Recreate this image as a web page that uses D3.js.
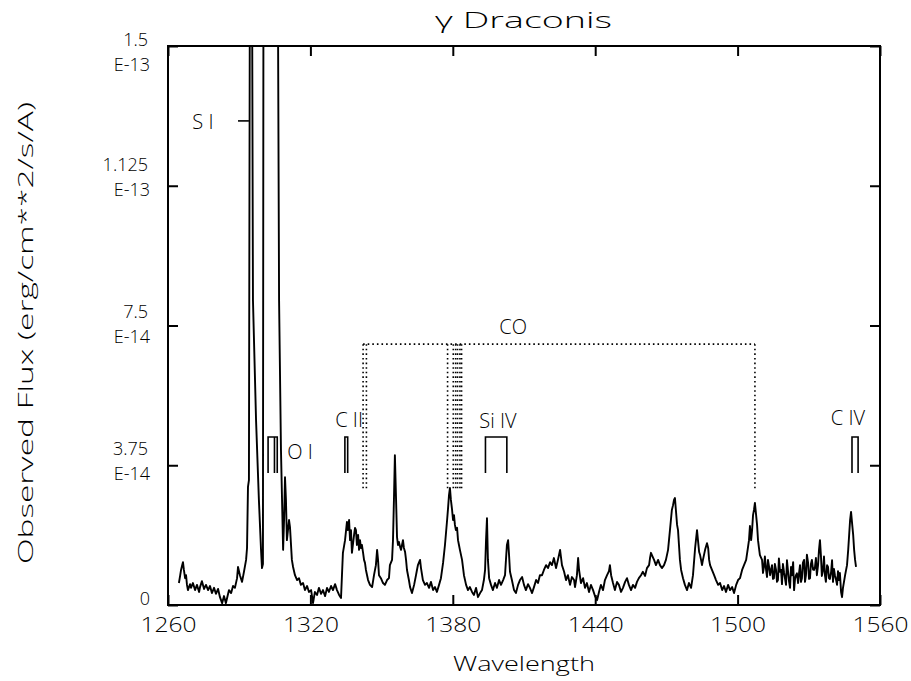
<!DOCTYPE html>
<html>
<head>
<meta charset="utf-8">
<script src="https://cdn.jsdelivr.net/npm/d3@7"></script>
<style>
  body { margin: 0; background: #fff; }
  svg { display: block; }
  text { font-family: "Open Sans", "DejaVu Sans", sans-serif; font-weight: 300; fill: #000; }
</style>
</head>
<body>
<svg id="chart" width="911" height="681"></svg>
<script>
// IUE short-wavelength spectrum of gamma Draconis: [wavelength (A), flux (1e-14 erg/cm^2/s/A)]
const spectrum = [
  [1264.6,0.59],[1265.1,0.78],[1265.5,0.94],[1265.9,1.05],[1266.3,1.15],[1266.7,0.94],[1267.2,0.72],[1267.6,0.80],
  [1268.0,0.54],[1268.4,0.40],[1269.3,0.56],[1269.7,0.46],[1270.5,0.59],[1271.4,0.40],[1272.2,0.54],[1273.1,0.35],
  [1273.5,0.48],[1274.3,0.64],[1275.2,0.43],[1276.0,0.54],[1276.9,0.40],[1277.7,0.51],[1278.5,0.32],[1279.4,0.46],
  [1280.2,0.30],[1281.1,0.43],[1281.9,0.21],[1282.8,0.05],[1283.6,0.24],[1284.4,0.05],[1284.9,0.19],[1285.7,0.40],
  [1286.6,0.32],[1287.4,0.51],[1288.2,0.46],[1289.1,0.72],[1289.5,1.02],[1290.3,0.80],[1291.2,0.62],[1292.0,0.89],
  [1292.9,1.21],[1293.3,1.53],[1293.7,3.17],[1294.1,3.35],[1294.7,24.0],[1295.0,26.0],[1295.8,8.18],[1297.1,4.96],
  [1298.3,2.82],[1299.2,1.48],[1299.6,0.99],[1300.0,1.10],[1300.4,30.0],[1303.0,40.0],[1305.5,30.0],[1306.8,8.18],
  [1307.6,4.16],[1308.5,1.48],[1308.9,2.28],[1309.3,3.43],[1309.7,2.82],[1310.1,1.74],[1311.0,2.28],[1311.4,2.09],
  [1312.2,1.21],[1312.7,1.02],[1313.5,0.80],[1314.4,0.67],[1315.2,0.72],[1316.0,0.54],[1316.9,0.59],[1317.7,0.40],
  [1318.6,0.51],[1319.4,0.35],[1320.3,0.40],[1321.1,0.05],[1321.9,0.35],[1322.8,0.27],[1323.6,0.46],[1324.5,0.30],
  [1325.3,0.40],[1326.2,0.24],[1327.0,0.46],[1327.8,0.35],[1328.7,0.51],[1329.5,0.40],[1330.4,0.56],[1331.2,0.40],
  [1332.1,0.27],[1332.9,0.19],[1333.3,0.80],[1333.7,1.40],[1334.6,1.74],[1335.4,2.23],[1335.8,2.01],[1336.3,2.28],
  [1336.7,1.74],[1337.1,2.01],[1337.5,1.40],[1337.9,1.61],[1338.4,1.88],[1338.8,2.07],[1339.2,2.01],[1339.6,1.61],
  [1340.1,1.88],[1340.5,1.48],[1340.9,1.74],[1341.3,1.53],[1341.7,1.61],[1342.2,1.40],[1342.6,1.21],[1343.0,1.13],
  [1343.4,0.94],[1344.3,0.67],[1345.1,0.54],[1346.0,0.48],[1346.8,0.80],[1347.6,1.07],[1348.1,1.48],[1348.5,1.21],
  [1348.9,0.80],[1349.7,0.72],[1350.6,0.59],[1351.4,0.54],[1352.3,0.67],[1353.1,0.72],[1353.5,1.07],[1354.4,1.21],
  [1354.8,1.74],[1355.2,2.82],[1355.6,4.02],[1356.1,2.82],[1356.5,1.82],[1356.9,1.61],[1357.3,1.69],[1357.8,1.56],
  [1358.2,1.48],[1358.6,1.61],[1359.0,1.74],[1359.4,1.53],[1359.9,1.42],[1360.3,1.21],[1360.7,0.94],[1361.5,0.67],
  [1362.0,0.48],[1362.8,0.32],[1363.7,0.54],[1364.5,0.80],[1364.9,0.94],[1365.3,1.07],[1366.2,1.21],[1366.6,0.99],
  [1367.4,0.67],[1368.3,0.54],[1369.1,0.59],[1370.0,0.46],[1370.8,0.62],[1371.7,0.40],[1372.5,0.48],[1373.3,0.35],
  [1374.2,0.54],[1375.0,0.72],[1375.9,1.13],[1376.7,1.61],[1377.6,2.28],[1378.0,2.60],[1378.4,2.95],[1378.8,3.14],
  [1379.2,2.82],[1379.7,2.55],[1380.1,2.28],[1380.5,2.41],[1380.9,2.15],[1381.3,2.01],[1381.8,2.07],[1382.2,1.74],
  [1382.6,1.61],[1383.0,1.48],[1383.9,1.21],[1384.7,0.80],[1385.6,0.54],[1386.4,0.40],[1387.2,0.48],[1388.1,0.35],
  [1388.9,0.27],[1389.8,0.46],[1390.6,0.21],[1391.5,0.32],[1392.3,0.40],[1393.1,0.67],[1393.6,0.94],[1394.0,1.74],
  [1394.4,2.33],[1394.8,1.21],[1395.3,0.72],[1396.1,0.54],[1396.9,0.40],[1397.8,0.59],[1398.6,0.46],[1399.5,0.67],
  [1400.3,0.54],[1401.2,0.67],[1402.0,0.80],[1402.4,1.21],[1402.8,1.61],[1403.3,1.74],[1403.7,1.34],[1404.1,0.89],
  [1404.9,0.67],[1405.8,0.40],[1406.6,0.32],[1407.5,0.54],[1408.3,0.67],[1409.2,0.75],[1410.0,0.54],[1410.8,0.40],
  [1411.7,0.56],[1412.5,0.46],[1413.4,0.32],[1414.2,0.48],[1415.1,0.67],[1415.9,0.59],[1416.7,0.80],[1417.6,0.80],
  [1418.4,0.94],[1419.3,1.07],[1420.1,0.99],[1421.0,1.15],[1421.8,1.07],[1422.6,1.26],[1423.5,0.99],[1424.3,1.21],
  [1425.2,1.48],[1426.0,1.07],[1426.9,0.89],[1427.7,0.67],[1428.5,0.80],[1429.4,0.54],[1430.2,0.75],[1431.1,0.67],
  [1431.5,0.48],[1432.3,0.80],[1432.8,1.26],[1433.2,0.94],[1434.0,0.59],[1434.9,0.72],[1435.7,0.46],[1436.5,0.59],
  [1437.4,0.35],[1438.2,0.54],[1439.1,0.40],[1439.9,0.24],[1440.8,0.13],[1441.6,0.35],[1442.4,0.54],[1443.3,0.40],
  [1444.1,0.67],[1445.0,0.80],[1445.8,0.91],[1446.2,1.07],[1446.7,0.80],[1447.5,0.59],[1448.3,0.40],[1449.2,0.62],
  [1450.0,0.54],[1450.9,0.35],[1451.7,0.46],[1452.6,0.62],[1453.4,0.72],[1454.2,0.54],[1455.1,0.40],[1455.9,0.54],
  [1456.8,0.46],[1457.6,0.62],[1458.4,0.72],[1459.3,0.80],[1460.1,0.89],[1461.0,0.78],[1461.8,0.99],[1462.7,1.07],
  [1463.1,1.26],[1463.5,1.40],[1463.9,1.34],[1464.8,1.21],[1465.6,1.07],[1466.5,1.21],[1467.3,1.07],[1468.1,0.99],
  [1469.0,1.07],[1469.8,1.21],[1470.7,1.48],[1471.5,2.01],[1471.9,2.28],[1472.3,2.55],[1472.8,2.68],[1473.2,2.82],
  [1473.6,2.87],[1474.0,2.55],[1474.5,2.15],[1474.9,2.01],[1475.3,1.61],[1475.7,1.21],[1476.2,0.94],[1477.0,0.72],
  [1477.8,0.54],[1478.7,0.40],[1479.5,0.59],[1480.4,0.46],[1481.2,0.80],[1482.1,1.53],[1482.9,2.01],[1483.3,1.74],
  [1483.8,1.42],[1484.2,1.34],[1484.6,1.21],[1485.0,1.07],[1485.4,1.21],[1486.3,1.48],[1487.1,1.66],[1487.6,1.53],
  [1488.0,1.21],[1488.4,1.07],[1489.2,0.94],[1490.1,0.80],[1490.9,0.67],[1491.8,0.54],[1492.6,0.59],[1493.5,0.40],
  [1494.3,0.51],[1495.1,0.35],[1496.0,0.54],[1496.8,0.40],[1497.7,0.48],[1498.5,0.32],[1499.4,0.54],[1500.2,0.67],
  [1501.0,0.72],[1501.9,0.94],[1502.7,1.07],[1503.6,1.21],[1504.4,1.56],[1504.8,1.74],[1505.2,2.12],[1505.7,1.74],
  [1506.1,2.01],[1506.5,2.41],[1506.9,2.55],[1507.3,2.74],[1507.8,2.41],[1508.2,2.15],[1508.6,1.74],[1509.0,1.53],
  [1509.4,1.34],[1510.3,1.21],[1510.7,0.86],[1511.1,1.02],[1511.5,1.30],[1512.0,0.94],[1512.4,0.75],[1512.8,1.21],
  [1513.2,1.05],[1513.7,0.80],[1514.1,0.95],[1514.5,1.07],[1514.9,0.70],[1515.3,0.72],[1515.7,1.10],[1516.2,0.94],
  [1516.6,0.62],[1517.0,0.67],[1517.4,1.25],[1517.9,0.89],[1518.3,0.94],[1518.7,0.56],[1519.1,1.10],[1519.6,0.86],
  [1520.0,0.70],[1520.4,0.54],[1520.8,1.20],[1521.2,0.94],[1521.7,0.62],[1522.1,0.46],[1522.5,1.02],[1522.9,0.80],
  [1523.4,1.15],[1523.8,0.40],[1524.2,0.70],[1524.6,0.80],[1525.0,0.85],[1525.5,0.59],[1525.9,0.86],[1526.3,1.07],
  [1526.7,0.62],[1527.1,0.72],[1527.5,1.13],[1528.0,1.21],[1528.4,0.62],[1528.8,0.80],[1529.2,1.35],[1529.7,1.13],
  [1530.1,0.70],[1530.5,0.72],[1530.9,1.10],[1531.3,1.21],[1531.8,0.95],[1532.2,0.94],[1532.6,1.02],[1533.0,1.26],
  [1533.4,0.80],[1533.9,1.07],[1534.3,1.48],[1534.7,1.74],[1535.1,1.34],[1535.5,0.78],[1536.0,0.94],[1536.4,1.30],
  [1536.8,0.80],[1537.2,0.62],[1537.7,1.07],[1538.1,1.02],[1538.5,0.72],[1538.9,0.70],[1539.4,0.89],[1539.8,1.20],
  [1540.2,0.62],[1540.6,0.97],[1541.0,0.80],[1541.4,0.70],[1541.9,0.54],[1542.3,0.91],[1542.7,0.67],[1543.1,0.86],
  [1543.6,0.35],[1544.0,0.21],[1544.4,0.46],[1545.3,0.80],[1546.1,1.07],[1546.6,1.48],
  [1547.0,1.88],[1547.4,2.28],[1547.8,2.50],[1548.3,2.15],[1548.7,1.88],[1549.1,1.48],[1549.5,1.21],[1549.9,1.02]
];

// Axis ticks and their labels (flux in units of 1e-14)
const xTicks = [1260, 1320, 1380, 1440, 1500, 1560];
const yTicks = [0, 3.75, 7.5, 11.25, 15];
const yTickLabels = [["0"], ["3.75", "E-14"], ["7.5", "E-14"], ["1.125", "E-13"], ["1.5", "E-13"]];

// Emission-line identifications: rest wavelengths of each multiplet
const ionNames = ["O I", "C II", "Si IV", "C IV"];
const ionLines = [[1302.17, 1304.86, 1306.03], [1334.53, 1335.71], [1393.76, 1402.77], [1548.20, 1550.77]];
const ionLabelAt = [[1315.6, 4.10], [1336.3, 4.96], [1399.0, 4.94], [1546.5, 5.02]];
const bracketFlux = [3.54, 4.51];

// S I marker and its label
const sIMarker = [1289.5, 1294.1, 12.99];
const sILabelAt = [1274.7, 12.95];

// CO fourth-positive band positions
const coBands = [1342.2, 1343.6, 1377.8, 1380.2, 1381.2, 1382.0, 1383.0, 1383.7, 1507.3];
const coFlux = [3.09, 7.0];
const coLabelAt = [1405.4, 7.46];

const svg = d3.select("#chart");
const plotLeft = 168, plotRight = 880, plotTop = 46, plotBottom = 605;

const x = d3.scaleLinear().domain([1260, 1560]).range([plotLeft, plotRight]);
const y = d3.scaleLinear().domain([0, 15]).range([plotBottom, plotTop]);

svg.append("rect").attr("width", 911).attr("height", 681).attr("fill", "#fff");

svg.append("defs").append("clipPath").attr("id", "plot-clip")
  .append("rect").attr("x", plotLeft).attr("y", plotTop)
  .attr("width", plotRight - plotLeft).attr("height", plotBottom - plotTop);

// Spectrum
svg.append("path")
  .datum(spectrum)
  .attr("clip-path", "url(#plot-clip)")
  .attr("fill", "none")
  .attr("stroke", "#000")
  .attr("stroke-width", 1.9)
  .attr("stroke-linejoin", "round")
  .attr("d", d3.line().x(d => x(d[0])).y(d => y(d[1])));

// Frame
svg.append("rect")
  .attr("x", plotLeft).attr("y", plotTop)
  .attr("width", plotRight - plotLeft).attr("height", plotBottom - plotTop)
  .attr("fill", "none").attr("stroke", "#000").attr("stroke-width", 2);

// Inward ticks on all four sides
function styleAxis(g) {
  g.select(".domain").remove();
  g.selectAll(".tick line").attr("stroke", "#000").attr("stroke-width", 2);
}
svg.append("g").attr("transform", `translate(0,${plotBottom})`)
  .call(d3.axisBottom(x).tickValues(xTicks).tickSize(-10).tickPadding(12).tickFormat(d3.format("d")))
  .call(styleAxis)
  .call(g => g.selectAll(".tick text")
    .attr("font-size", 21).attr("font-family", null).attr("fill", "#000")
    .attr("textLength", 56).attr("lengthAdjust", "spacingAndGlyphs"));
svg.append("g").attr("transform", `translate(0,${plotTop})`)
  .call(d3.axisTop(x).tickValues(xTicks).tickSize(-10).tickFormat(""))
  .call(styleAxis);
svg.append("g").attr("transform", `translate(${plotLeft},0)`)
  .call(d3.axisLeft(y).tickValues(yTicks).tickSize(-10).tickFormat(""))
  .call(styleAxis);
svg.append("g").attr("transform", `translate(${plotRight},0)`)
  .call(d3.axisRight(y).tickValues(yTicks).tickSize(-10).tickFormat(""))
  .call(styleAxis);

// Two-line y tick labels, each line its own text; a per-tick nudge places each block
const yLabelNudge = [0, -3, 0, -7, 8];
const yLab = svg.append("g").attr("font-size", 18).attr("text-anchor", "end");
yTicks.forEach((v, i) => {
  const lines = yTickLabels[i];
  if (lines.length === 1) {
    yLab.append("text").attr("x", 150).attr("y", y(v) - 6).attr("dy", "0.35em").text(lines[0]);
  } else {
    const yc = y(v) + yLabelNudge[i];
    yLab.append("text").attr("x", 148).attr("y", yc - 14).attr("dy", "0.35em").text(lines[0]);
    yLab.append("text").attr("x", 150).attr("y", yc + 11).attr("dy", "0.35em").text(lines[1]);
  }
});

// Title and axis titles
svg.append("text").attr("x", 435).attr("y", 28).attr("font-size", 22)
  .attr("textLength", 177).attr("lengthAdjust", "spacingAndGlyphs")
  .text("γ Draconis");
svg.append("text").attr("x", 524).attr("y", 671).attr("text-anchor", "middle").attr("font-size", 21)
  .attr("textLength", 142).attr("lengthAdjust", "spacingAndGlyphs")
  .text("Wavelength");
svg.append("text").attr("transform", "translate(33,333) rotate(-90)").attr("text-anchor", "middle")
  .attr("font-size", 21).attr("textLength", 462).attr("lengthAdjust", "spacingAndGlyphs")
  .text("Observed Flux (erg/cm**2/s/A)");

// Line identification brackets
const marks = svg.append("g").attr("fill", "none").attr("stroke", "#000").attr("stroke-width", 1.6);
ionLines.forEach(ls => {
  const yt = y(bracketFlux[1]), yb = y(bracketFlux[0]);
  let d = `M${x(ls[0])},${yb}V${yt}H${x(ls[ls.length - 1])}V${yb}`;
  ls.slice(1, -1).forEach(w => { d += `M${x(w)},${yt}V${yb}`; });
  marks.append("path").attr("d", d);
});
marks.append("line")
  .attr("x1", x(sIMarker[0])).attr("x2", x(sIMarker[1]))
  .attr("y1", y(sIMarker[2])).attr("y2", y(sIMarker[2]));

const labels = svg.append("g").attr("font-size", 20).attr("text-anchor", "middle");
ionNames.forEach((n, i) => {
  labels.append("text").attr("x", x(ionLabelAt[i][0])).attr("y", y(ionLabelAt[i][1]))
    .attr("dy", "0.35em").text(n);
});
labels.append("text").attr("x", x(sILabelAt[0])).attr("y", y(sILabelAt[1])).attr("dy", "0.35em").text("S I");
labels.append("text").attr("x", x(coLabelAt[0])).attr("y", y(coLabelAt[1])).attr("dy", "0.35em").text("CO");

// CO band markers: dotted verticals joined by a dotted bar
const co = svg.append("g").attr("fill", "none").attr("stroke", "#000")
  .attr("stroke-width", 1.6).attr("stroke-dasharray", "1.6,3");
co.append("line").attr("x1", x(coBands[0])).attr("x2", x(coBands[coBands.length - 1]))
  .attr("y1", y(coFlux[1])).attr("y2", y(coFlux[1]));
coBands.forEach(w => {
  co.append("line").attr("x1", x(w)).attr("x2", x(w))
    .attr("y1", y(coFlux[1])).attr("y2", y(coFlux[0]));
});
</script>
</body>
</html>
